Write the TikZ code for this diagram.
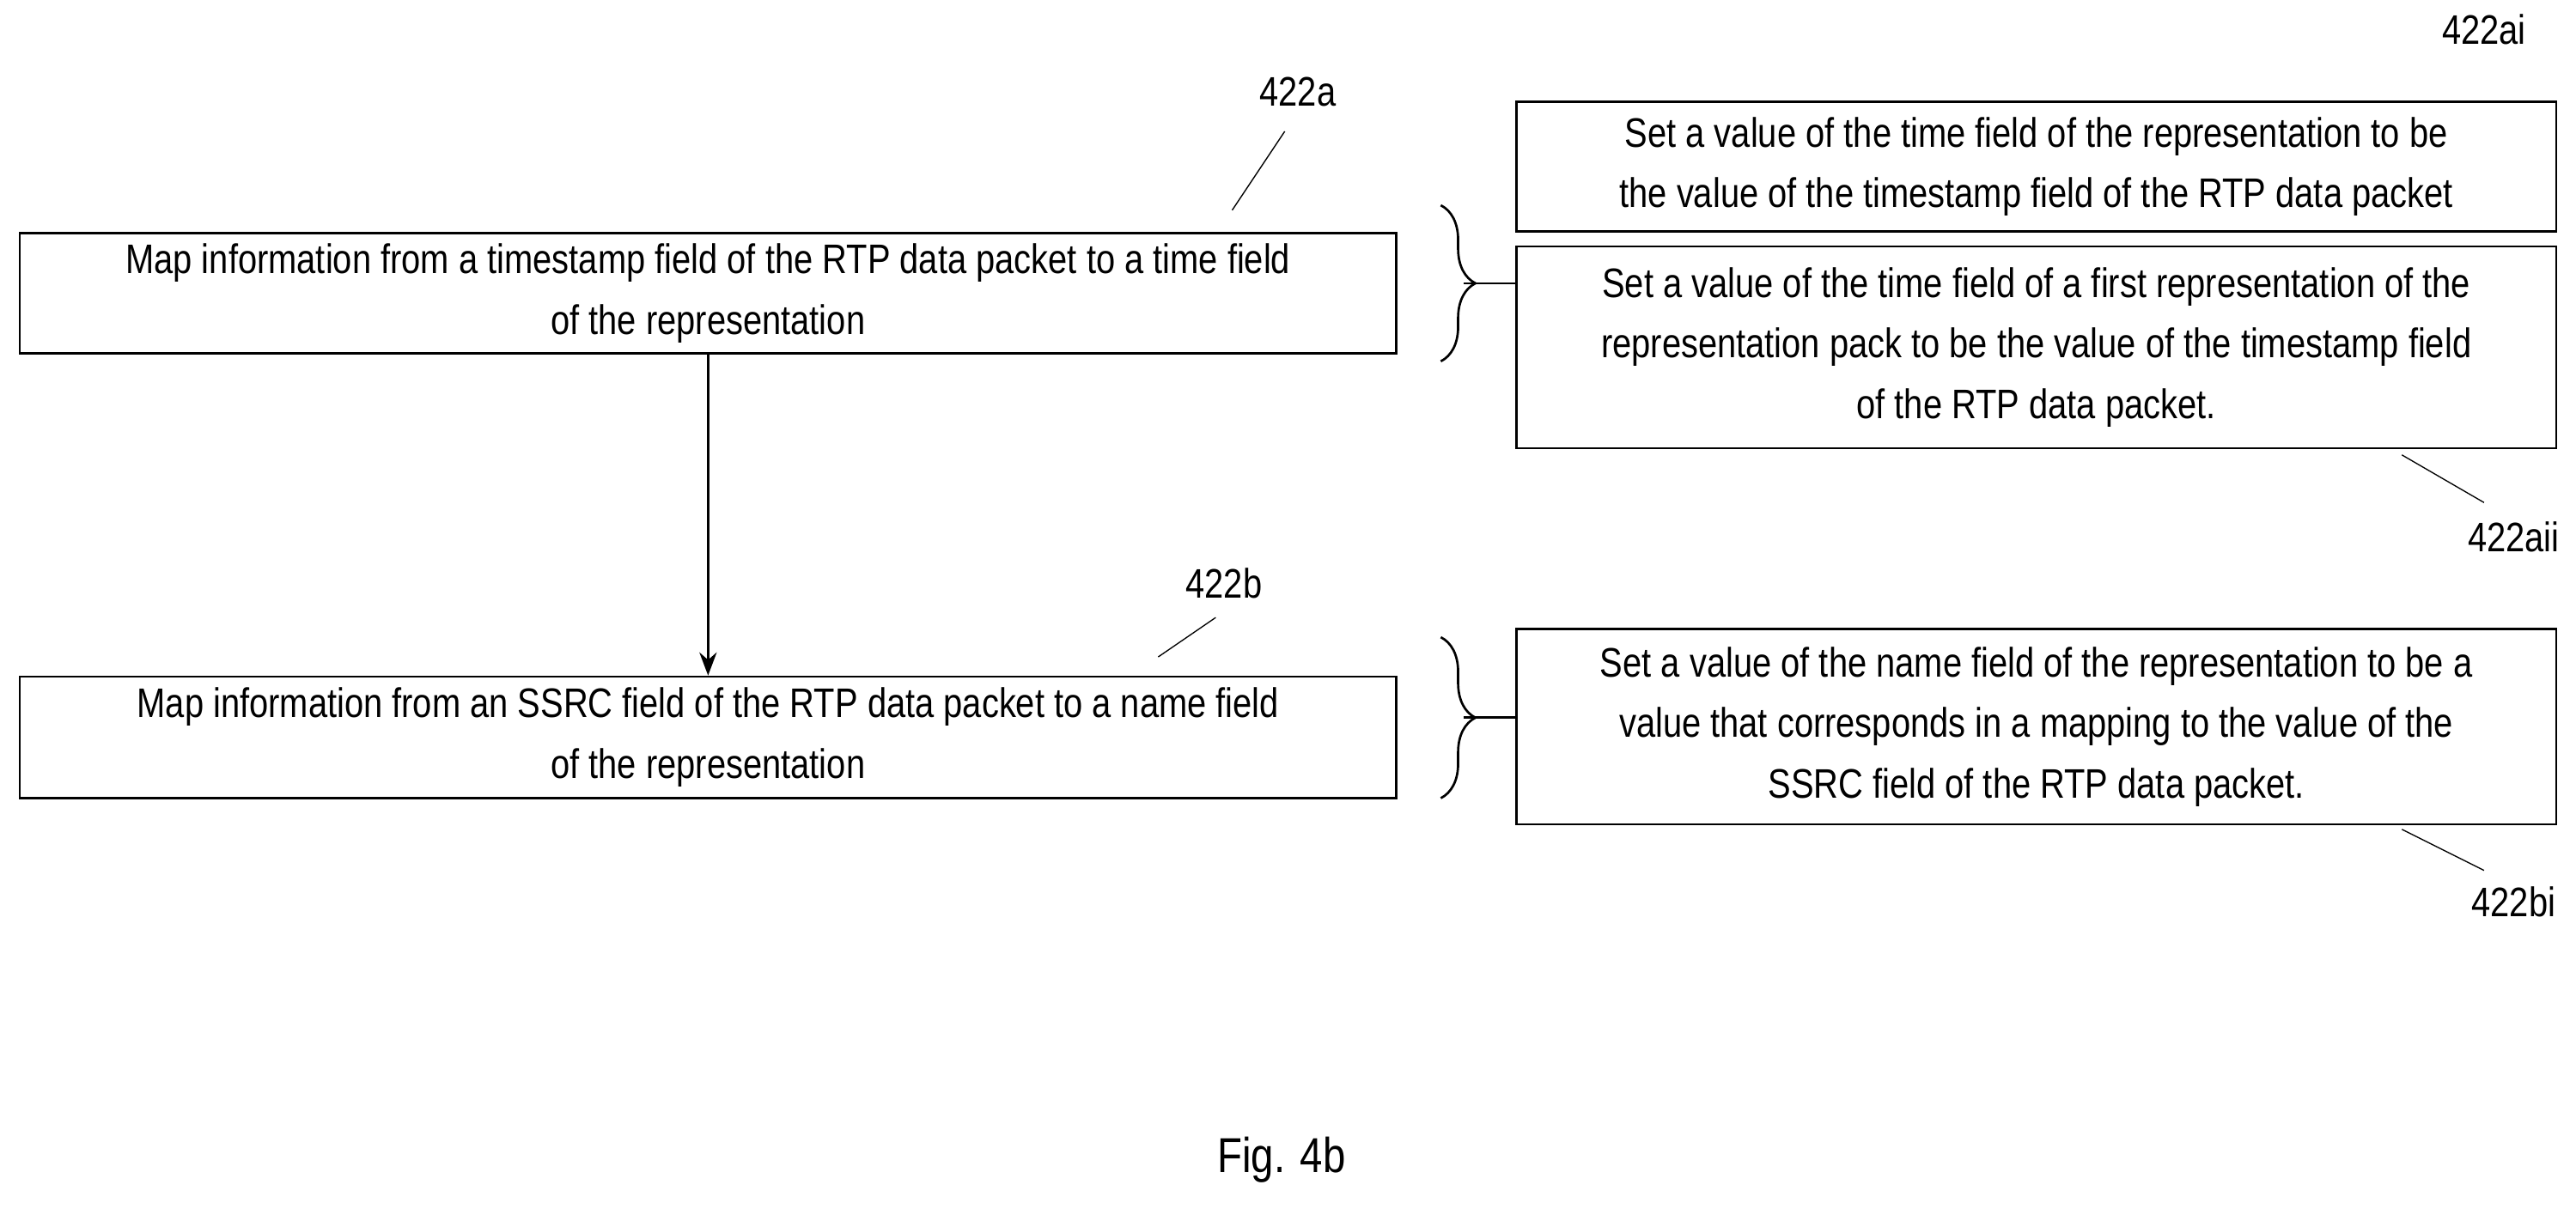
\documentclass[tikz,border=0pt]{standalone}
\usepackage{fontspec}
\setmainfont{Liberation Sans}[FakeStretch=0.83]
\usetikzlibrary{arrows.meta}
\usetikzlibrary{positioning}
\usetikzlibrary{decorations.pathreplacing}
\tikzset{x=0.02cm, y=-0.02cm,
         every node/.style={font=\fontsize{14.3}{21}\selectfont},
         stepbox/.style={draw, thick, align=center, inner sep=0pt},
         ref/.style={inner sep=1pt},
         lead/.style={thin},
         grp/.style={thick, decorate, decoration={brace, amplitude=12pt}}}
\begin{document}
\begin{tikzpicture}
\useasboundingbox (0,0) rectangle (1568,736);
% left steps
\node[stepbox, minimum width=16.76cm, minimum height=1.46cm] (MapT) at (431,178.5)
  {Map information from a timestamp field of the RTP data packet to a time field\\of the representation};
\node[stepbox, minimum width=16.76cm, minimum height=1.48cm] (MapS) at (431,449)
  {Map information from an SSRC field of the RTP data packet to a name field\\of the representation};
% right steps
\node[stepbox, minimum width=12.66cm, minimum height=1.58cm] (SetT) at (1239.5,101.5)
  {Set a value of the time field of the representation to be\\the value of the timestamp field of the RTP data packet};
\node[stepbox, minimum width=12.66cm, minimum height=2.46cm] (SetP) at (1239.5,211.5)
  {Set a value of the time field of a first representation of the\\representation pack to be the value of the timestamp field\\of the RTP data packet.};
\node[stepbox, minimum width=12.66cm, minimum height=2.38cm] (SetN) at (1239.5,442.5)
  {Set a value of the name field of the representation to be a\\value that corresponds in a mapping to the value of the\\SSRC field of the RTP data packet.};
% flow
\draw[thick, -{Stealth[length=8pt]}] (MapT) -- (MapS);
% braces
\draw[grp] (877,125) -- (877,220);
\draw[grp] (877,388) -- (877,486);
\coordinate (bA) at (891,172.5);
\coordinate (bB) at (891,437);
\draw[thick] (bA) -- (SetP.west |- bA);
\draw[thick] (bB) -- (SetN.west |- bB);
% reference labels
\node[ref] (lA) at (790,56) {422a};
\node[ref] (lAi) at (1512,18) {422ai};
\node[ref] (lAii) at (1530,327) {422aii};
\node[ref] (lB) at (745,355) {422b};
\node[ref] (lBi) at (1530,549) {422bi};
\draw[lead] (750,128) -- (782,80);
\draw[lead] (1462,277) -- (1512,306);
\draw[lead] (705,400) -- (740,376);
\draw[lead] (1462,505) -- (1512,530);
\node (fig) at (780,706) {\fontsize{17}{20}\selectfont Fig. 4b};
\end{tikzpicture}
\end{document}
